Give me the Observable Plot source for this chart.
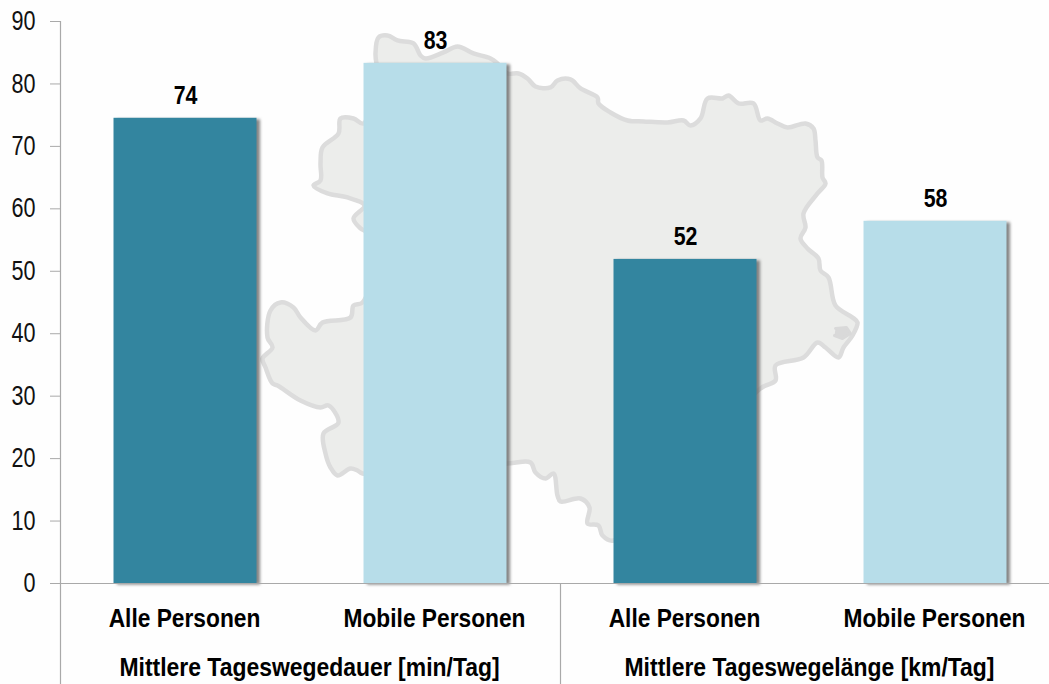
<!DOCTYPE html>
<html><head><meta charset="utf-8">
<script src="https://cdn.jsdelivr.net/npm/d3@7"></script>
<script src="https://cdn.jsdelivr.net/npm/@observablehq/plot@0.6"></script>
<style>
html,body{margin:0;padding:0;background:#fefefe;overflow:hidden}
svg{display:block}
</style></head><body>
<div id="chart"></div>
<script>
// Chart values
const groups = ["Mittlere Tageswegedauer [min/Tag]", "Mittlere Tageswegelänge [km/Tag]"];
const categories = ["Alle Personen", "Mobile Personen", "Alle Personen", "Mobile Personen"];
const values = [74.5, 83.3, 51.9, 58];
const valueLabels = ["74", "83", "52", "58"];
const yTicks = [0, 10, 20, 30, 40, 50, 60, 70, 80, 90];

// Background silhouette: picture [x, y], converted to chart units below
const mapTrace = [[376,63],[375,53],[378,37],[387,35],[397,40],[413,43],[420,55],[425,58],[443,52],[457,46],[473,53],[490,58],[497,63],[507,73],[518,73],[527,78],[535,86],[550,87],[557,80],[570,79],[580,88],[597,97],[598,103],[610,112],[627,120],[643,121],[667,122],[683,120],[690,125],[700,118],[707,98],[722,98],[728,95],[738,103],[753,103],[760,120],[767,118],[777,123],[787,127],[805,123],[813,128],[815,140],[817,157],[821,160],[822,177],[825,183],[817,193],[803,213],[805,227],[800,238],[807,248],[818,258],[820,270],[828,277],[835,305],[852,317],[857,322],[852,335],[843,347],[838,357],[825,347],[817,342],[803,357],[775,365],[775,380],[760,388],[613,540],[602,535],[598,525],[587,523],[589,507],[580,498],[560,501],[557,495],[553,473],[545,478],[535,472],[530,462],[507,463],[362,473],[357,470],[350,468],[337,475],[330,467],[325,453],[323,433],[338,422],[328,405],[320,407],[300,400],[277,385],[272,383],[265,367],[262,358],[272,347],[267,337],[270,310],[280,302],[293,307],[300,317],[315,330],[322,322],[350,317],[353,305],[362,302],[372,270],[366,232],[360,228],[353,218],[364,205],[347,197],[327,193],[313,185],[320,180],[320,163],[322,147],[338,133],[340,118],[353,118],[363,123],[376,63]];
const mapBlob = [[835,328],[846,327],[850,333],[842,338],[834,335]];

const toX = p => (p[0] - 60) / 250;
const toY = p => (583 - p[1]) / 6.244;

const barInset = 0.214;
const slots = categories.map((c, i) => ({i, c, v: values[i], label: valueLabels[i]}));
const groupRows = groups.map((g, i) => ({g, x: 2 * i + 1}));
const teal = "#33859f", pale = "#b7dde9", axisGray = "#a9a9a9";
const face = "'Liberation Sans',Arial,sans-serif";

const chart = Plot.plot({
  width: 1049, height: 684,
  marginTop: 21, marginBottom: 101, marginLeft: 60, marginRight: 0,
  style: {background: "transparent", fontFamily: face, overflow: "visible"},
  x: {domain: [0, 3.956], axis: null},
  y: {domain: [0, 90], axis: null},
  marks: [
    Plot.line(mapTrace, {x: toX, y: toY, fill: "#ecedeb", stroke: "#dcdcdc", strokeWidth: 4.5, strokeLinejoin: "round", curve: "catmull-rom"}),
    Plot.line(mapBlob, {x: toX, y: toY, fill: "#d9d9d9", stroke: "#d9d9d9", strokeWidth: 3, strokeLinejoin: "round"}),
    // drop shadow
    Plot.rectY(slots, {x1: d => d.i + barInset, x2: d => d.i + 1 - barInset, y1: 0, y2: "v", fill: "#666", dx: 3.5, dy: 1.5, fillOpacity: 0.8, imageFilter: "blur(1.5px)"}),
    Plot.rectY(slots, {x1: d => d.i + barInset, x2: d => d.i + 1 - barInset, y1: 0, y2: "v", fill: d => d.i % 2 ? pale : teal}),
    // axes
    Plot.ruleX([0], {y1: 90, y2: -16.2, stroke: axisGray, strokeWidth: 1.2}),
    Plot.ruleX([2], {y1: 0, y2: -16.2, stroke: axisGray, strokeWidth: 1.2}),
    Plot.ruleY([0], {x1: 0, x2: 3.956, stroke: axisGray, strokeWidth: 1.2}),
    Plot.axisY({ticks: yTicks, tickSize: 10, tickPadding: 15, stroke: axisGray, fill: "#111", fontSize: 27, label: null, tickFormat: d => String(d), className: "ticklabels"}),
    // labels
    Plot.text(slots, {x: d => d.i + 0.5, y: "v", text: "label", dy: -23, fill: "#000", fontSize: 26, fontWeight: "bold", className: "vals"}),
    Plot.text(slots, {x: d => d.i + 0.5, y: 0, text: "c", dy: 35, dx: -1, fill: "#000", fontSize: 26.5, fontWeight: "bold", className: "cats"}),
    Plot.text(groupRows, {x: "x", y: 0, text: "g", dy: 84, dx: -1, fill: "#000", fontSize: 26, fontWeight: "bold", className: "grps"})
  ]
});
document.getElementById("chart").appendChild(chart);

// The reference face is condensed: narrow each label horizontally
const squeeze = {ticklabels: 0.80, vals: 0.82, cats: 0.858, grps: 0.882};
for (const [cls, k] of Object.entries(squeeze)) {
  d3.select(chart).selectAll(`.${cls} text, text.${cls}`).each(function () {
    this.setAttribute("textLength", this.getComputedTextLength() * k);
    this.setAttribute("lengthAdjust", "spacingAndGlyphs");
  });
}
</script>
</body></html>
